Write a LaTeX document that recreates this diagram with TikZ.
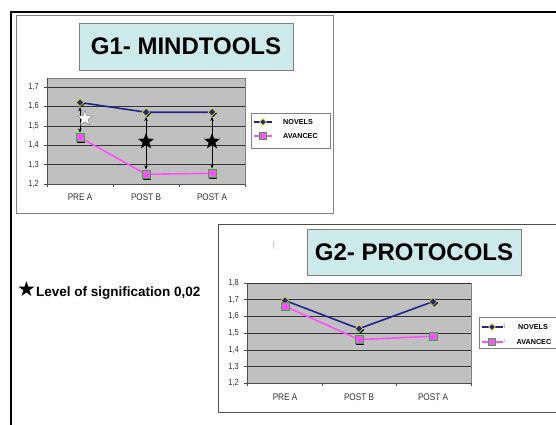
\documentclass[tikz,border=0pt]{standalone}
\usepackage{fontspec}
\setmainfont{Liberation Sans}
\newfontfamily\symfont{DejaVu Sans}
\newfontfamily\condfont[FakeStretch=0.85]{Liberation Sans}
\usetikzlibrary{shapes.geometric,arrows.meta}
\definecolor{navy}{RGB}{30,40,140}
\definecolor{pinkline}{RGB}{255,80,255}
\definecolor{titlefill}{RGB}{204,234,234}
\definecolor{plotgray}{RGB}{192,192,192}
\definecolor{framegray}{RGB}{128,128,128}
\definecolor{mkgreen}{RGB}{40,180,40}
\definecolor{labgray}{RGB}{50,50,50}
\tikzset{
  titlebox/.style={draw=framegray, fill=titlefill, line width=0.8pt, inner sep=0pt, font=\bfseries\fontsize{24}{24}\selectfont},
  plotarea/.style={fill=plotgray, draw=framegray, line width=0.6pt},
  gridln/.style={draw=black!80, line width=0.6pt},
  axlab/.style={font=\condfont\fontsize{8.8}{9}\selectfont, text=labgray, inner sep=0pt},
  catlab/.style={font=\condfont\fontsize{9.6}{10}\selectfont, text=labgray, inner sep=0pt},
  leglab/.style={font=\bfseries\fontsize{7.2}{8}\selectfont, inner sep=0pt},
  legbox/.style={draw=framegray, fill=white, line width=0.6pt},
  novline/.style={draw=navy, line width=1.6pt},
  avline/.style={draw=pinkline, line width=1.6pt},
  lnovline/.style={draw=navy, line width=2.2pt},
  lavline/.style={draw=pinkline, line width=2.2pt},
  novmark/.style={diamond, fill=navy, draw=yellow!90!black, line width=0.6pt, minimum size=8pt, inner sep=0pt},
  avmark/.style={rectangle, fill=pinkline, draw=mkgreen, line width=0.8pt, minimum size=8pt, inner sep=0pt},
  shad/.style={fill=black, minimum size=8pt, inner sep=0pt},
  sigarrow/.style={{Stealth[length=4pt,width=3.5pt]}-{Stealth[length=4pt,width=3.5pt]}, draw=black, line width=0.7pt, shorten <=0.5pt, shorten >=0.5pt},
  bigstar/.style={star, star points=5, star point ratio=2.4, minimum size=17pt, inner sep=0pt, fill=black},
  whitestar/.style={star, star points=5, star point ratio=2.4, minimum size=16pt, inner sep=0pt, fill=white, draw=gray, line width=0.5pt}
}
\begin{document}
\begin{tikzpicture}[x=1pt,y=-1pt]
\useasboundingbox (0,0) rectangle (556,425);
\fill[white] (0,0) rectangle (556,425);
% outer black lines
\draw[line width=2pt] (557,12) -- (11,12) -- (11,425);
% ===== Chart 1 =====
\draw[draw=framegray, line width=0.8pt] (16,15) rectangle (333,213);
\node[titlebox, minimum width=214pt, minimum height=47pt] (t1) at (186,46.5) {G1- MINDTOOLS};
\path[plotarea] (47,78) rectangle (245,184);
\foreach \yy in {87,106.4,125.8,145.2,164.6} {\draw[gridln] (47,\yy) -- (245,\yy);}
\draw[draw=black!70, line width=0.6pt] (47,78) -- (47,184) -- (245,184);
\foreach \yy in {87,106.4,125.8,145.2,164.6,184} {\draw[draw=black!70, line width=0.6pt] (44,\yy) -- (47,\yy);}
\foreach \xx in {47,113,179,245} {\draw[draw=black!70, line width=0.6pt] (\xx,184) -- (\xx,187);}
\node[axlab, anchor=east] (y17) at (39,87) {1,7};
\node[axlab, anchor=east] (y16) at (39,106.4) {1,6};
\node[axlab, anchor=east] (y15) at (39,125.8) {1,5};
\node[axlab, anchor=east] (y14) at (39,145.2) {1,4};
\node[axlab, anchor=east] (y13) at (39,164.6) {1,3};
\node[axlab, anchor=east] (y12) at (39,184) {1,2};
\node[catlab] (c1a) at (80,197) {PRE A};
\node[catlab] (c1b) at (146,197) {POST B};
\node[catlab] (c1c) at (212,197) {POST A};
% data lines
\draw[novline] (80,102.5) -- (146,112.2) -- (212,112.2);
\draw[avline] (80,137.4) -- (146,174.3) -- (212,173.3);
% markers
\foreach \xx/\yy in {80/102.5,146/112.2,212/112.2} {\node[shad, diamond] at (\xx+1,\yy+1) {};}
\foreach \xx/\yy in {80/137.4,146/174.3,212/173.3} {\node[shad] at (\xx+1.2,\yy+1.2) {};}
\node[novmark] (n1) at (80,102.5) {};
\node[novmark] (n2) at (146,112.2) {};
\node[novmark] (n3) at (212,112.2) {};
\node[avmark] (a1) at (80,137.4) {};
\node[avmark] (a2) at (146,174.3) {};
\node[avmark] (a3) at (212,173.3) {};
\draw[sigarrow] (n1) -- (a1);
\draw[sigarrow] (n2) -- (a2);
\draw[sigarrow] (n3) -- (a3);
\node[whitestar] (s1) at (85,118.5) {};
\node[bigstar] (s2) at (146,141.5) {};
\node[bigstar] (s3) at (212,141.5) {};
% legend 1
\draw[legbox] (251,113) rectangle (330,148);
\draw[lnovline] (254,122) -- (272,122);
\draw[lavline] (254,136) -- (272,136);
\node[novmark, minimum size=7pt] (ln1) at (263,122) {};
\node[avmark, minimum size=6.5pt] (la1) at (263,136) {};
\node[leglab, anchor=west] (lt1) at (283,122) {NOVELS};
\node[leglab, anchor=west] (lt2) at (283,136) {AVANCEC};
% ===== Chart 2 =====
\draw[draw=black!70, line width=0.8pt] (557,224) -- (218,224) -- (218,412) -- (557,412);
\node[titlebox, minimum width=214pt, minimum height=46pt] (t2) at (414,252) {G2- PROTOCOLS};
\node[font=\fontsize{8}{9}\selectfont, text=navy!40, inner sep=0pt] (art) at (274,245) {(};
\path[plotarea] (247,283) rectangle (471,383);
\foreach \yy in {283,299.7,316.4,333.1,349.8,366.5} {\draw[gridln] (247,\yy) -- (471,\yy);}
\draw[draw=black!70, line width=0.6pt] (247,283) -- (247,383) -- (471,383);
\foreach \yy in {283,299.7,316.4,333.1,349.8,366.5,383} {\draw[draw=black!70, line width=0.6pt] (244,\yy) -- (247,\yy);}
\foreach \xx in {247,322,396,471} {\draw[draw=black!70, line width=0.6pt] (\xx,383) -- (\xx,386);}
\node[axlab, anchor=east] (z18) at (239,283) {1,8};
\node[axlab, anchor=east] (z17) at (239,299.7) {1,7};
\node[axlab, anchor=east] (z16) at (239,316.4) {1,6};
\node[axlab, anchor=east] (z15) at (239,333.1) {1,5};
\node[axlab, anchor=east] (z14) at (239,349.8) {1,4};
\node[axlab, anchor=east] (z13) at (239,366.5) {1,3};
\node[axlab, anchor=east] (z12) at (239,383) {1,2};
\node[catlab] (c2a) at (285,397) {PRE A};
\node[catlab] (c2b) at (359,397) {POST B};
\node[catlab] (c2c) at (433,397) {POST A};
\draw[novline] (285,300.5) -- (359,328.7) -- (433,301.6);
\draw[avline] (285,306.2) -- (359,339.6) -- (433,336.2);
\foreach \xx/\yy in {285/300.5,359/328.7,433/301.6} {\node[shad, diamond] at (\xx+1.2,\yy+1.2) {};}
\foreach \xx/\yy in {285/306.2,359/339.6,433/336.2} {\node[shad] at (\xx+1.2,\yy+1.2) {};}
\node[novmark] (m1) at (285,300.5) {};
\node[novmark] (m2) at (359,328.7) {};
\node[novmark] (m3) at (433,301.6) {};
\node[avmark] (b1) at (285,306.2) {};
\node[avmark] (b2) at (359,339.6) {};
\node[avmark] (b3) at (433,336.2) {};
% legend 2
\draw[legbox] (479,317) rectangle (560,348);
\draw[lnovline] (482,327) -- (503,327);
\draw[lavline] (482,342) -- (503,342);
\node[novmark, minimum size=7pt] (ln2) at (492,327) {};
\node[avmark, minimum size=6.5pt] (la2) at (492,342) {};
\node[leglab, font=\fontsize{5}{5}\selectfont\normalfont, text=black!60, anchor=west] (r1) at (504,326) {|};
\node[leglab, font=\fontsize{5}{5}\selectfont\normalfont, text=black!60, anchor=west] (r2) at (504,341) {/};
\node[leglab, anchor=west] (lt3) at (518,327) {NOVELS};
\node[leglab, anchor=west] (lt4) at (516.5,342) {AVANCEC};
% significance note
\node[anchor=west, inner sep=0pt, font=\bfseries\fontsize{13.5}{14}\selectfont] (note) at (17,290) {{\symfont\fontsize{21}{21}\selectfont ★}Level of signification 0,02};
\end{tikzpicture}
\end{document}
